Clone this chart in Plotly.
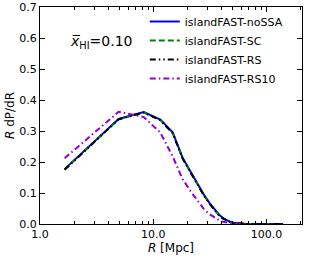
import plotly.graph_objects as go

r_bins = [1.65 + 3.3 * k for k in range(43)]  # bin centres [Mpc]

black_vals = [0.175, 0.338, 0.360, 0.335, 0.293, 0.212, 0.165, 0.125, 0.092, 0.066,
              0.045, 0.029, 0.018, 0.011, 0.006, 0.003, 0.002, 0.001, 0.0007, 0.0005,
              0.0003, 0.0002, 0.0001, 0.0001, 0.0001, 0, 0, 0, 0, 0,
              0, 0, 0, 0, 0, 0, 0, 0, 0, 0, 0, 0, 0]
blue_vals = [0.177, 0.339, 0.361, 0.337, 0.296, 0.214, 0.168, 0.128, 0.094, 0.068,
             0.047, 0.031, 0.019, 0.012, 0.007, 0.004, 0.002, 0.0012, 0.0008, 0.0005,
             0.0003, 0.0002, 0.0001, 0.0001, 0.0001, 0, 0, 0, 0, 0,
             0, 0, 0, 0, 0, 0, 0, 0, 0, 0, 0, 0, 0]
green_vals = [0.176, 0.338, 0.360, 0.336, 0.294, 0.213, 0.166, 0.126, 0.093, 0.067,
              0.046, 0.030, 0.018, 0.011, 0.006, 0.003, 0.002, 0.001, 0.0007, 0.0005,
              0.0003, 0.0002, 0.0001, 0.0001, 0.0001, 0, 0, 0, 0, 0,
              0, 0, 0, 0, 0, 0, 0, 0, 0, 0, 0, 0, 0]
purple_vals = [0.212, 0.362, 0.345, 0.295, 0.218, 0.145, 0.105, 0.074, 0.048, 0.032,
               0.021, 0.013, 0.007, 0.004, 0.002, 0.001, 0.0005, 0.0002, 0.0001, 0]

x_major = [1, 10, 100]
x_major_labels = ["1.0", "10.0", "100.0"]
x_minor = [2, 3, 4, 5, 6, 7, 8, 9, 20, 30, 40, 50, 60, 70, 80, 90, 200]
y_ticks = [0, 0.1, 0.2, 0.3, 0.4, 0.5, 0.6, 0.7]
y_labels = ["0.0", "0.1", "0.2", "0.3", "0.4", "0.5", "0.6", "0.7"]

series = [
    ("islandFAST-noSSA", blue_vals, "#0000ff", "solid"),
    ("islandFAST-SC", green_vals, "#008000", "6px,3px"),
    ("islandFAST-RS", black_vals, "#000000", "6px,3px,1.5px,3px,1.5px,3px"),
    ("islandFAST-RS10", purple_vals, "#9400d3", "6px,3px,1.5px,3px"),
]

fig = go.Figure()
for name, vals, col, dash in series:
    fig.add_trace(go.Scatter(x=r_bins[:len(vals)], y=vals, mode="lines", name=name,
                             line=dict(color=col, width=2, dash=dash)))

font = "DejaVu Sans, sans-serif"
fig.update_layout(
    width=311, height=259,
    margin=dict(l=40, r=9, t=7, b=35, autoexpand=False),
    paper_bgcolor="white", plot_bgcolor="white",
    font=dict(family=font, size=11, color="black"),
    showlegend=True,
    legend=dict(x=0.4, y=1.0, xanchor="left", yanchor="top",
                bgcolor="rgba(0,0,0,0)", font=dict(size=11),
                itemwidth=30, tracegroupgap=0, borderwidth=0),
    xaxis=dict(type="log", range=[0, 2.314],
               tickmode="array", tickvals=x_major, ticktext=x_major_labels,
               ticks="inside", ticklen=5, tickwidth=1, tickcolor="black",
               minor=dict(tickmode="array", tickvals=x_minor, ticks="inside",
                          ticklen=3, tickcolor="black", showgrid=False),
               showline=True, linecolor="black", linewidth=1.2, mirror="ticks",
               showgrid=False, zeroline=False,
               title=dict(text="<i>R</i> [Mpc]", font=dict(size=12), standoff=0),
               tickfont=dict(size=11)),
    yaxis=dict(range=[0, 0.7], tickmode="array", tickvals=y_ticks, ticktext=y_labels,
               ticks="inside", ticklen=5, tickwidth=1, tickcolor="black",
               showline=True, linecolor="black", linewidth=1.2, mirror="ticks",
               showgrid=False, zeroline=False,
               title=dict(text="<i>R</i> dP/dR", font=dict(size=12), standoff=2),
               tickfont=dict(size=11)),
)
fig.add_annotation(x=0.105, y=0.84, xref="paper", yref="paper", xanchor="left", yanchor="middle",
                   text="<i>x\u0305</i><sub>HI</sub>=0.10", showarrow=False,
                   font=dict(size=14, family=font, color="black"))
fig.write_html("out.html", config={"displayModeBar": False},
               post_script="document.body.style.margin='0';")
